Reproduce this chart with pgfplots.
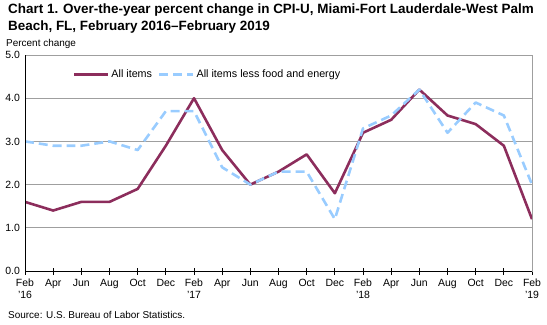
\documentclass[border=0pt]{standalone}
\usepackage{pgfplots}
\pgfplotsset{compat=1.18}
\usepackage{fontspec}
\setmainfont{Liberation Sans}
\definecolor{allc}{RGB}{140,45,92}
\definecolor{corec}{RGB}{153,204,255}
\begin{document}
\begin{tikzpicture}[x=1bp,y=1bp]
\path[use as bounding box] (0,0) rectangle (547,324);
\node[anchor=north west,inner sep=0pt,align=left,font=\fontsize{13.5}{16.5}\selectfont\bfseries] at (8,320) {Chart 1. Over-the-year percent change in CPI-U, Miami-Fort Lauderdale-West Palm\\Beach, FL, February 2016--February 2019};
\node[anchor=base west,inner sep=0pt,font=\fontsize{10}{12}\selectfont] at (6,278) {Percent change};
\node[anchor=base west,inner sep=0pt,font=\fontsize{10}{12}\selectfont] at (8,6) {Source: U.S. Bureau of Labor Statistics.};
\begin{axis}[
  at={(25bp,53bp)}, anchor=south west,
  width=507bp, height=216bp, scale only axis,
  xmin=0, xmax=18, ymin=0, ymax=5,
  xtick={0,...,18},
  xticklabels={{Feb\\'16},Apr,Jun,Aug,Oct,Dec,{Feb\\'17},Apr,Jun,Aug,Oct,Dec,{Feb\\'18},Apr,Jun,Aug,Oct,Dec,{Feb\\'19}},
  xticklabel style={align=center,font=\fontsize{10.5}{12}\selectfont,yshift=-1pt},
  ytick={0,1,2,3,4,5},
  yticklabel style={font=\fontsize{10.5}{12}\selectfont,xshift=2pt},
  yticklabel={\pgfmathprintnumber[fixed,fixed zerofill,precision=1]{\tick}},
  /pgf/number format/assume math mode=true,
  ymajorgrids, grid style={gray!75,line width=0.8pt},
  axis line style={gray!75,line width=0.8pt},
  xtick pos=bottom, ytick pos=left,
  x tick style={black,line width=0.8pt},
  y tick style={draw=none},
  tick align=center, major tick length=7bp,
  legend style={draw=none,fill=none,at={(0.36,0.91)},anchor=center,legend columns=2,
    font=\fontsize{10.8}{12}\selectfont,/tikz/every even column/.append style={column sep=4pt}},
  legend image code/.code={\draw[#1] (0cm,0cm) -- (1.2cm,0cm);},
]
\addplot[allc,line width=2.6pt,line join=round] coordinates {
(0,1.6)(1,1.4)(2,1.6)(3,1.6)(4,1.9)(5,2.9)(6,4.0)(7,2.8)(8,2.0)(9,2.3)(10,2.7)(11,1.8)(12,3.2)(13,3.5)(14,4.2)(15,3.6)(16,3.4)(17,2.9)(18,1.2)};
\addlegendentry{All items}
\addplot[corec,line width=2.6pt,dash pattern=on 9pt off 5pt,line join=round] coordinates {
(0,3.0)(1,2.9)(2,2.9)(3,3.0)(4,2.8)(5,3.7)(6,3.7)(7,2.4)(8,2.0)(9,2.3)(10,2.3)(11,1.2)(12,3.3)(13,3.6)(14,4.2)(15,3.2)(16,3.9)(17,3.6)(18,2.0)};
\addlegendentry{All items less food and energy}
\draw[black,line width=0.9pt] (rel axis cs:0,1) -- (rel axis cs:0,0) -- (rel axis cs:1,0);
\end{axis}
\end{tikzpicture}
\end{document}
